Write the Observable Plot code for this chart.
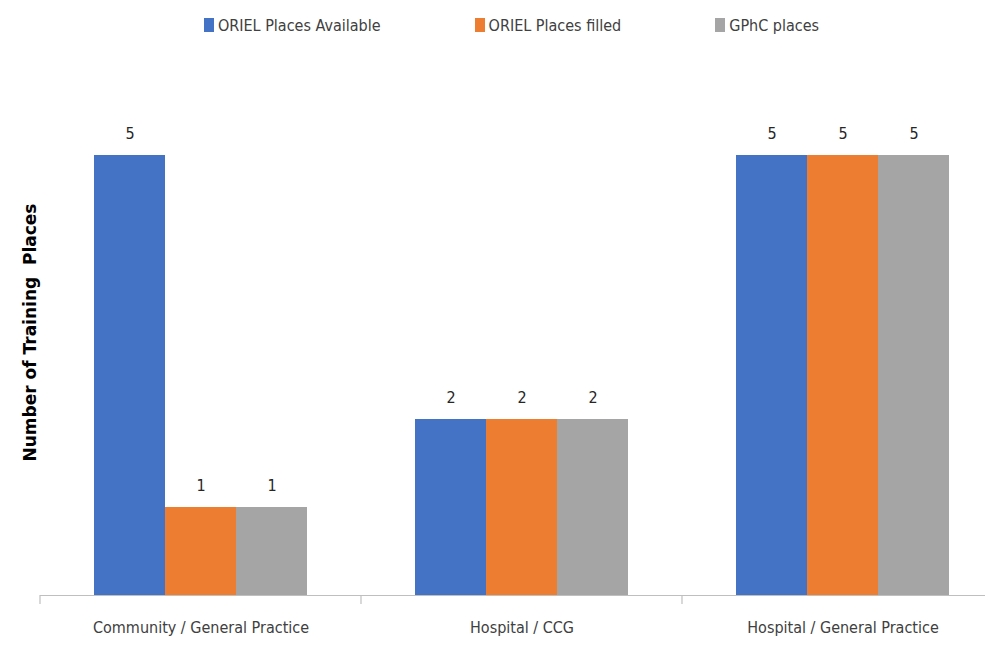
<!DOCTYPE html>
<html><head><meta charset="utf-8">
<script src="https://cdn.jsdelivr.net/npm/d3@7"></script>
<script src="https://cdn.jsdelivr.net/npm/@observablehq/plot@0.6"></script>
<style>
body{margin:0;background:#fff;font-family:"Liberation Sans Narrow","DejaVu Sans Condensed",sans-serif;}
#legend{height:50px;display:flex;justify-content:center;align-items:center;gap:94px;padding-left:38px;font-size:16px;color:#404040;box-sizing:border-box;width:985px;}
.item{display:flex;align-items:center;}
.sw{width:10px;height:14px;margin-right:4px;}
#chart svg{max-width:none;}
</style></head><body>
<div id="legend"></div><div id="chart"></div>
<script>
const categories = ["Community / General Practice", "Hospital / CCG", "Hospital / General Practice"];
const series = ["ORIEL Places Available", "ORIEL Places filled", "GPhC places"];
const availableValues = [5, 2, 5];
const filledValues = [1, 2, 5];
const gphcValues = [1, 2, 5];
const colors = ["#4472C4", "#ED7D31", "#A5A5A5"];
const yLabel = "Number of Training  Places";

const seriesValues = [availableValues, filledValues, gphcValues];
const data = categories.flatMap((c, i) => series.map((s, j) => ({category: c, series: s, value: seriesValues[j][i]})));

const legend = document.getElementById("legend");
series.forEach((s, j) => {
  const it = document.createElement("div"); it.className = "item";
  const sw = document.createElement("span"); sw.className = "sw"; sw.style.background = colors[j];
  const tx = document.createElement("span"); tx.textContent = s;
  it.append(sw, tx); legend.append(it);
});

const font = '"Liberation Sans Narrow","DejaVu Sans Condensed",sans-serif';
const chart = Plot.plot({
  width: 985, height: 602,
  marginTop: 105, marginBottom: 57, marginLeft: 40, marginRight: -18,
  style: {fontFamily: font, fontSize: "16px", color: "#404040", background: "#fff", overflow: "visible"},
  fx: {domain: categories, padding: 0, label: null, axis: "bottom", tickSize: 0, tickPadding: 26},
  x: {domain: series, paddingInner: 0, paddingOuter: 0.74, axis: null},
  y: {domain: [0, 5], axis: null},
  color: {domain: series, range: colors},
  marks: [
    Plot.barY(data, {fx: "category", x: "series", y: "value", fill: "series"}),
    Plot.ruleY([0], {stroke: "#bfbfbf", strokeWidth: 1.2}),
    Plot.text(data, {fx: "category", x: "series", y: "value", text: d => String(d.value), dy: -22, fill: "#262626", fontSize: 16}),
    Plot.text([yLabel], {fx: () => categories[0], frameAnchor: "left", rotate: -90, dx: -10, dy: 86, fontWeight: "bold", fontFamily: "DejaVu Sans", fontSize: 17, fill: "#000"})
  ]
});
document.getElementById("chart").append(chart);

// boundary ticks below the baseline, placed with the plot's own fx / y scales
const fxs = chart.scale("fx");
const y0 = chart.scale("y").apply(0);
const svg = d3.select(chart);
categories.forEach(c => {
  const x0 = fxs.apply(c);
  svg.append("line").attr("x1", x0).attr("x2", x0).attr("y1", y0).attr("y2", y0 + 9)
    .attr("stroke", "#bfbfbf").attr("stroke-width", 1.2);
});
</script>
</body></html>
